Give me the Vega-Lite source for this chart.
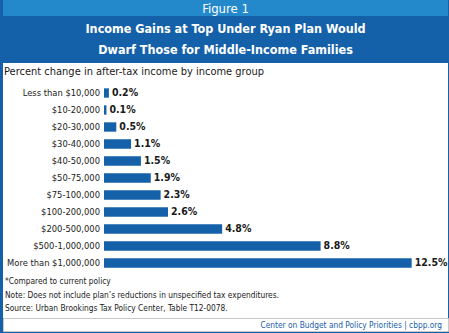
{
  "$schema": "https://vega.github.io/schema/vega-lite/v6.json",
  "background": "#1561a9",
  "padding": {"left": 2, "right": 2, "top": 0, "bottom": 2},
  "spacing": 0,
  "bounds": "flush",
  "config": {"view": {"stroke": null}, "font": "DejaVu Sans Condensed, Lato, sans-serif"},
  "vconcat": [
    {
      "width": 445, "height": 16,
      "view": {"fill": "#2389cb", "stroke": null},
      "data": {"values": [{"t": "Figure 1"}]},
      "mark": {"type": "text", "font": "DejaVu Sans Condensed, Lato, sans-serif", "fontSize": 13, "color": "white", "dy": 0.5},
      "encoding": {"text": {"field": "t"}}
    },
    {
      "width": 445, "height": 47,
      "view": {"fill": "#1561a9", "stroke": null},
      "data": {"values": [{"t": "Income Gains at Top Under Ryan Plan Would\nDwarf Those for Middle-Income Families"}]},
      "mark": {"type": "text", "font": "DejaVu Sans Condensed, Lato, sans-serif", "fontWeight": "bold", "fontSize": 12.5, "color": "white", "lineBreak": "\n", "lineHeight": 21, "dy": -10.5},
      "encoding": {"text": {"field": "t"}}
    },
    {
      "width": 445, "height": 18,
      "view": {"fill": "white", "stroke": null},
      "data": {"values": [{"t": "Percent change in after-tax income by income group"}]},
      "mark": {"type": "text", "font": "DejaVu Sans Condensed, Lato, sans-serif", "fontSize": 11, "color": "#1a1a1a", "align": "left", "dx": 1},
      "encoding": {
        "x": {"datum": 0, "scale": {"domain": [0, 1]}, "axis": null},
        "text": {"field": "t"}
      }
    },
    {
      "width": 445, "height": 192,
      "view": {"fill": "white", "stroke": null},
      "data": {"values": [
        {"group": "Less than $10,000", "value": 0.002},
        {"group": "$10-20,000", "value": 0.001},
        {"group": "$20-30,000", "value": 0.005},
        {"group": "$30-40,000", "value": 0.011},
        {"group": "$40-50,000", "value": 0.015},
        {"group": "$50-75,000", "value": 0.019},
        {"group": "$75-100,000", "value": 0.023},
        {"group": "$100-200,000", "value": 0.026},
        {"group": "$200-500,000", "value": 0.048},
        {"group": "$500-1,000,000", "value": 0.088},
        {"group": "More than $1,000,000", "value": 0.125}
      ]},
      "encoding": {
        "y": {"field": "group", "type": "nominal", "sort": null, "axis": null,
              "scale": {"paddingInner": 0.45, "paddingOuter": 0.372, "align": 0.579}}
      },
      "layer": [
        {
          "mark": {"type": "bar", "color": "#1561a9"},
          "encoding": {
            "x": {"field": "value", "type": "quantitative", "axis": null,
                  "scale": {"domain": [-0.04103, 0.13975], "nice": false, "zero": false}},
            "x2": {"datum": 0}
          }
        },
        {
          "mark": {"type": "text", "align": "left", "dx": 3, "font": "DejaVu Sans Condensed, Lato, sans-serif", "fontWeight": "bold", "fontSize": 10.5, "color": "#1a1a1a"},
          "encoding": {
            "x": {"field": "value", "type": "quantitative"},
            "text": {"field": "value", "type": "quantitative", "format": ".1%"}
          }
        },
        {
          "mark": {"type": "text", "align": "right", "dx": -4, "font": "DejaVu Sans Condensed, Lato, sans-serif", "fontSize": 9.3, "color": "#1a1a1a"},
          "encoding": {
            "x": {"datum": 0},
            "text": {"field": "group"}
          }
        }
      ]
    },
    {
      "width": 445, "height": 45,
      "view": {"fill": "white", "stroke": null},
      "data": {"values": [
        {"n": 1, "t": "*Compared to current policy"},
        {"n": 2, "t": "Note: Does not include plan’s reductions in unspecified tax expenditures."},
        {"n": 3, "t": "Source: Urban Brookings Tax Policy Center, Table T12-0078."}
      ]},
      "mark": {"type": "text", "align": "left", "dx": 2, "font": "DejaVu Sans Condensed, Lato, sans-serif", "fontSize": 8.3, "color": "#1a1a1a"},
      "encoding": {
        "x": {"datum": 0, "scale": {"domain": [0, 1]}, "axis": null},
        "y": {"field": "n", "type": "ordinal", "axis": null, "scale": {"type": "point", "padding": 0.667}},
        "text": {"field": "t"}
      }
    },
    {
      "width": 445, "height": 13,
      "view": {"fill": "white", "stroke": "#c8c8c8", "strokeWidth": 1},
      "data": {"values": [{"t": "Center on Budget and Policy Priorities | cbpp.org"}]},
      "mark": {"type": "text", "align": "right", "dx": -6, "dy": 1.5, "font": "DejaVu Sans Condensed, Lato, sans-serif", "fontSize": 8.3, "color": "#1a5ea8"},
      "encoding": {
        "x": {"datum": 1, "scale": {"domain": [0, 1]}, "axis": null},
        "text": {"field": "t"}
      }
    }
  ]
}
